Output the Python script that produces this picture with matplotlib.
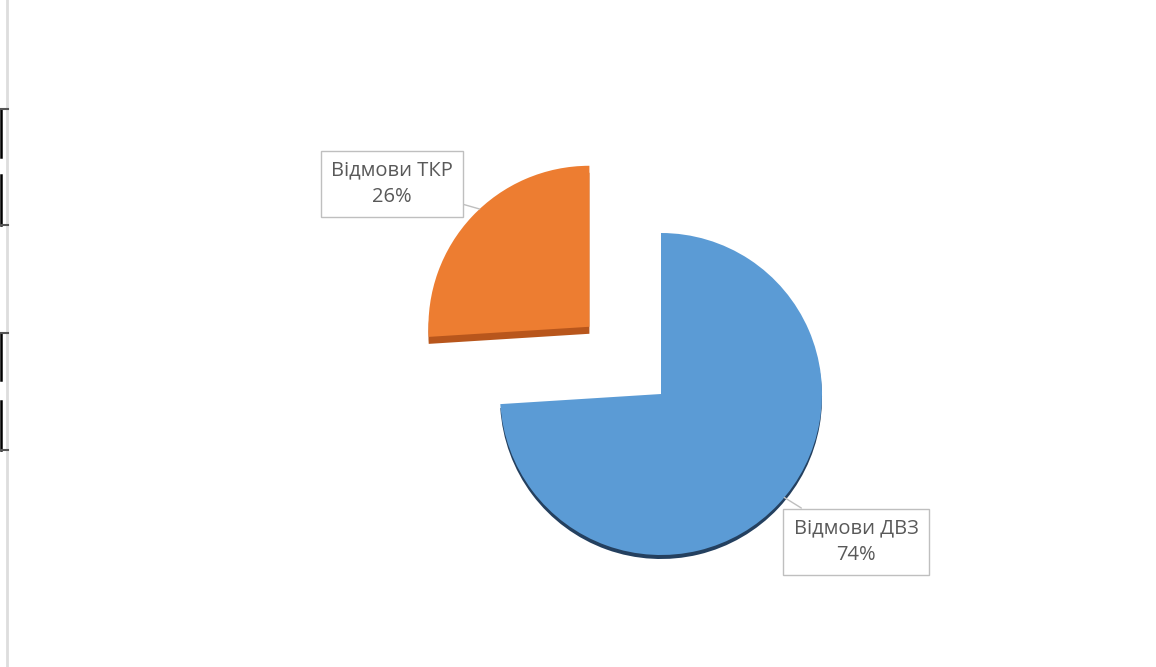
import numpy as np
import matplotlib.pyplot as plt
from matplotlib.patches import Wedge

# Failure shares
labels = ['Відмови ДВЗ', 'Відмови ТКР']
shares = [74, 26]
colors = ['#5B9BD5', '#ED7D31']
side_colors = ['#24405f', '#b8561c']

plt.rcParams['font.family'] = ['Open Sans', 'DejaVu Sans']

W, H = 1156, 667
fig = plt.figure(figsize=(W / 100, H / 100), dpi=100)
ax = fig.add_axes([0, 0, 1, 1])

center = (661, 273)
radius = 161
# pie explode is in data units, so scale by the radius
explode = [0, 0.61 * radius]

wedges, _ = ax.pie(shares, colors=colors, startangle=90, counterclock=False,
                   explode=explode, center=center, radius=radius, frame=True,
                   wedgeprops=dict(linewidth=0, zorder=3))
ax.set_xlim(0, W)
ax.set_ylim(0, H)
ax.set_aspect('equal')
ax.axis('off')

# thin extruded side under each slice for a 3D look
offsets = [(0, -4), (0, -7)]
for w, c, (dx, dy) in zip(wedges, side_colors, offsets):
    cx, cy = w.center
    side = Wedge((cx + dx, cy + dy), w.r, w.theta1, w.theta2,
                 facecolor=c, linewidth=0, zorder=2)
    ax.add_patch(side)

# data labels with leader lines
label_pos = [(856, 125), (392, 483)]
leader_ang = [-40, 133]
for w, lab, val, pos, ang in zip(wedges, labels, shares, label_pos, leader_ang):
    cx, cy = w.center
    px = cx + w.r * np.cos(np.radians(ang))
    py = cy + w.r * np.sin(np.radians(ang))
    ax.annotate(f'{lab}\n{val}%', xy=(px, py), xytext=pos,
                ha='center', va='center', fontsize=14.5, color='#595959',
                linespacing=1.45, zorder=5,
                bbox=dict(boxstyle='square,pad=0.5', fc='white',
                          ec='#bfbfbf', lw=1),
                arrowprops=dict(arrowstyle='-', color='#bfbfbf', lw=1,
                                shrinkA=0, shrinkB=0))

# page border remnants along the left edge
ax.plot([7, 7], [0, H], color='#dddddd', lw=2, zorder=1)
brackets = [(510, 558, 558), (442, 492, 442), (287, 334, 334), (217, 266, 217)]
for y0, y1, yt in brackets:
    ax.plot([1, 1], [y0, y1], color='black', lw=1.8, zorder=1)
    ax.plot([1, 8], [yt, yt], color='#555555', lw=1.5, zorder=1)

fig.savefig('out.png', dpi=100, facecolor='white')
